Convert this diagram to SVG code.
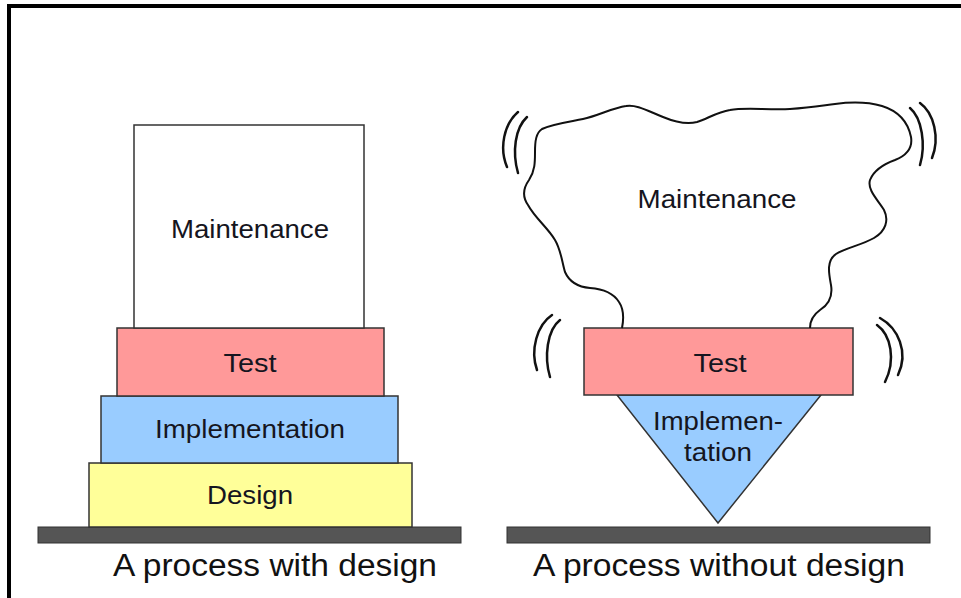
<svg xmlns="http://www.w3.org/2000/svg" width="961" height="598" viewBox="0 0 961 598">
<style>
  .box { stroke: #333; stroke-width: 1.5; }
  .lbl { font-family: "Liberation Sans", Arial, sans-serif; font-size: 25px; fill: #151520; text-anchor: middle; }
  .cap { font-family: "Liberation Sans", Arial, sans-serif; font-size: 31px; fill: #111; }
  .ground { fill: #555; stroke: #333; stroke-width: 1; }
  .wob { fill: none; stroke: #111; stroke-width: 2.5; stroke-linecap: round; }
  .cloud { fill: none; stroke: #111; stroke-width: 2; stroke-linejoin: round; }
</style>
<rect x="0" y="0" width="961" height="598" fill="#fff"/>
<g id="frame">
  <line x1="7" y1="6" x2="961" y2="6" stroke="#000" stroke-width="4"/>
  <line x1="9" y1="4" x2="9" y2="598" stroke="#000" stroke-width="4"/>
</g>

<!-- Left: a process with design -->
<g id="left-ground"><rect class="ground" x="38" y="527" width="423" height="16"/></g>
<g id="left-design">
  <rect class="box" x="89" y="463" width="323" height="64" fill="#ffff99"/>
  <text class="lbl" x="250" y="504" textLength="86" lengthAdjust="spacingAndGlyphs">Design</text>
</g>
<g id="left-implementation">
  <rect class="box" x="101" y="396" width="297" height="67" fill="#99ccff"/>
  <text class="lbl" x="250" y="438" textLength="190" lengthAdjust="spacingAndGlyphs">Implementation</text>
</g>
<g id="left-test">
  <rect class="box" x="117" y="328" width="267" height="68" fill="#ff9999"/>
  <text class="lbl" x="250" y="372" textLength="53" lengthAdjust="spacingAndGlyphs">Test</text>
</g>
<g id="left-maintenance">
  <rect class="box" x="134" y="125" width="230" height="203" fill="#fff"/>
  <text class="lbl" x="250" y="238" textLength="158" lengthAdjust="spacingAndGlyphs">Maintenance</text>
</g>
<text class="cap" x="113" y="576" textLength="324" lengthAdjust="spacingAndGlyphs">A process with design</text>

<!-- Right: a process without design -->
<g id="right-ground"><rect class="ground" x="507" y="527" width="423" height="16"/></g>
<g id="right-implementation">
  <polygon class="box" points="617,395 821,395 718,523" fill="#99ccff"/>
  <text class="lbl" x="718" y="430" textLength="130" lengthAdjust="spacingAndGlyphs">Implemen-</text>
  <text class="lbl" x="718" y="461" textLength="68" lengthAdjust="spacingAndGlyphs">tation</text>
</g>
<g id="right-test">
  <rect class="box" x="584" y="328" width="269" height="67" fill="#ff9999"/>
  <text class="lbl" x="720" y="372" textLength="53" lengthAdjust="spacingAndGlyphs">Test</text>
</g>
<g id="right-maintenance">
  <path class="cloud" d="M622,328 C624,318 623,308 619,302 C614,294 604,289 590,288 C578,287 569,281 565,272 C562,262 561,250 555,240 C548,228 535,218 528,205 C521,195 524,187 529,180 C535,171 535,162 535,152 C535,141 536,133 542,129 C552,124 568,122 583,119 C598,116 612,108 626,106 C636,104 648,111 663,117 C675,122 686,125 697,122 C707,119 717,112 730,110 C745,107 765,110 790,109 C810,108 820,106 835,104 C850,102 868,102 882,106 C898,111 908,122 911,137 C913,149 905,156 895,160 C884,164 874,170 870,180 C867,190 878,200 884,210 C889,220 886,231 874,238 C862,245 845,248 836,254 C826,261 829,274 831,285 C833,297 828,305 820,310 C813,315 810,320 810,328"/>
  <text class="lbl" x="717" y="208" textLength="159" lengthAdjust="spacingAndGlyphs">Maintenance</text>
</g>
<g id="wobbles">
  <path class="wob" d="M518,112 C504,124 499,148 507,167"/>
  <path class="wob" d="M527,117 C515,128 512,152 518,173"/>
  <path class="wob" d="M920,103 C934,113 940,138 932,158"/>
  <path class="wob" d="M910,108 C922,118 926,145 920,165"/>
  <path class="wob" d="M552,315 C537,325 530,350 537,370"/>
  <path class="wob" d="M560,320 C547,330 544,357 550,377"/>
  <path class="wob" d="M880,318 C898,328 909,352 898,375"/>
  <path class="wob" d="M877,325 C891,335 896,360 885,382"/>
</g>
<text class="cap" x="533" y="576" textLength="372" lengthAdjust="spacingAndGlyphs">A process without design</text>
</svg>
